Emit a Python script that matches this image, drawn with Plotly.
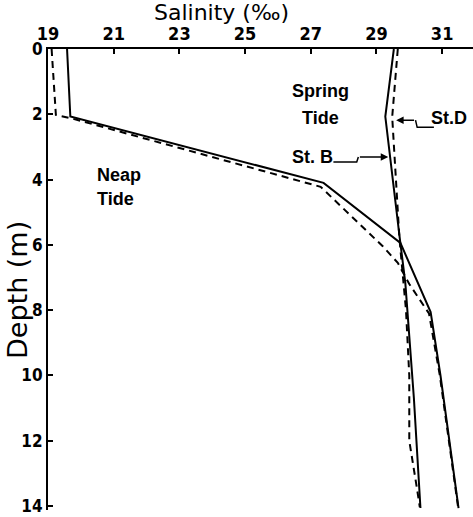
import plotly.graph_objects as go

# ---- data ----
neap_solid_depth = [0, 2.07, 4.10, 5.94, 8.06, 10.0, 14.06]
neap_solid_sal = [19.58, 19.68, 27.39, 29.73, 30.65, 30.95, 31.50]

neap_dash_depth = [0, 2.02, 2.12, 4.22, 6.05, 6.55, 7.2, 8.1, 10.0, 14.06]
neap_dash_sal = [19.11, 19.24, 19.70, 27.30, 29.20, 29.65, 30.0, 30.60, 30.93, 31.49]

stB_depth = [0, 2.07, 5.79, 7.17, 10.69, 14.06]
stB_sal = [29.53, 29.27, 29.71, 29.88, 30.14, 30.34]

stD_depth = [0, 2.08, 5.8, 8.0, 10.0, 12.0, 13.5, 14.03]
stD_sal = [29.65, 29.48, 29.70, 29.90, 30.00, 30.00, 30.24, 30.32]

x_ticks = [19, 21, 23, 25, 27, 29, 31]
y_ticks = [0, 2, 4, 6, 8, 10, 12, 14]

XTICKFONT = dict(family="Liberation Sans Narrow, DejaVu Sans Condensed, Liberation Sans, Arial",
                 size=18, color="black", weight="bold")
YTICKFONT = dict(family="Liberation Sans Narrow, DejaVu Sans Condensed, Liberation Sans, Arial",
                 size=17, color="black", weight="bold")
XTITLEFONT = dict(family="DejaVu Sans, Liberation Sans", size=22, color="black")
YTITLEFONT = dict(family="DejaVu Sans, Liberation Sans", size=27, color="black")
LABELFONT = dict(family="Liberation Sans, Arial", size=18, color="black", weight="bold")

fig = go.Figure()
solid = dict(color="black", width=2)
dashed = dict(color="black", width=2, dash="7px,5px")

fig.add_trace(go.Scatter(x=neap_solid_sal, y=neap_solid_depth, mode="lines", line=solid))
fig.add_trace(go.Scatter(x=neap_dash_sal, y=neap_dash_depth, mode="lines", line=dashed))
fig.add_trace(go.Scatter(x=stB_sal, y=stB_depth, mode="lines", line=solid))
fig.add_trace(go.Scatter(x=stD_sal, y=stD_depth, mode="lines", line=dashed))

# zigzag arrow tails
fig.add_shape(type="path", xref="x", yref="y",
              path="M 27.69 3.46 L 28.40 3.46 L 28.45 3.31",
              line=dict(color="black", width=1.5))
fig.add_shape(type="path", xref="x", yref="y",
              path="M 30.19 2.18 L 30.24 2.40 L 30.75 2.40",
              line=dict(color="black", width=1.5))

W, H = 473, 517
L, R, T, B = 48, 0, 49, 7
pw, ph = W - L - R, H - T - B

annotations = [
    dict(x=29.36, y=3.31, ax=28.45, ay=3.31, xref="x", yref="y", axref="x", ayref="y",
         text="", showarrow=True, arrowhead=2, arrowsize=1, arrowwidth=1.5, arrowcolor="black"),
    dict(x=29.60, y=2.18, ax=30.19, ay=2.18, xref="x", yref="y", axref="x", ayref="y",
         text="", showarrow=True, arrowhead=2, arrowsize=1, arrowwidth=1.5, arrowcolor="black"),
    dict(x=27.3, y=1.29, xref="x", yref="y", text="Spring", showarrow=False, font=LABELFONT),
    dict(x=27.3, y=2.11, xref="x", yref="y", text="Tide", showarrow=False, font=LABELFONT),
    dict(x=20.43, y=3.85, xref="x", yref="y", text="Neap", showarrow=False, font=LABELFONT, xanchor="left"),
    dict(x=20.43, y=4.6, xref="x", yref="y", text="Tide", showarrow=False, font=LABELFONT, xanchor="left"),
    dict(x=26.38, y=3.31, xref="x", yref="y", text="St. B", showarrow=False, font=LABELFONT, xanchor="left"),
    dict(x=30.59, y=2.11, xref="x", yref="y", text="St.D", showarrow=False, font=LABELFONT, xanchor="left"),
    dict(x=221, y=12, xref="paper", yref="paper", text="Salinity (‰)", showarrow=False, font=XTITLEFONT),
    dict(x=17, y=290, xref="paper", yref="paper", text="Depth (m)", showarrow=False, font=YTITLEFONT, textangle=-90),
]
# convert pixel-placed titles to paper coordinates
for a in annotations:
    if a.get("xref") == "paper":
        a["x"] = (a["x"] - L) / pw
        a["y"] = 1 - (a["y"] - T) / ph
        a["xanchor"] = "center"
        a["yanchor"] = "middle"

fig.update_layout(
    width=W, height=H,
    margin=dict(l=L, r=R, t=T, b=B, pad=0, autoexpand=False),
    paper_bgcolor="white", plot_bgcolor="white",
    showlegend=False,
    annotations=annotations,
    xaxis=dict(side="top", range=[19.0, 31.94], tickvals=x_ticks, ticktext=[str(v) for v in x_ticks],
               showgrid=False, zeroline=False, showline=True, linecolor="black", linewidth=2,
               automargin=False,
               ticks="inside", ticklen=5, tickwidth=1.5, tickcolor="black", tickfont=XTICKFONT),
    yaxis=dict(range=[14.12, 0], tickvals=y_ticks, ticktext=[str(v) for v in y_ticks],
               showgrid=False, zeroline=False, showline=True, linecolor="black", linewidth=2,
               automargin=False,
               ticks="inside", ticklen=5, tickwidth=1.5, tickcolor="black", tickfont=YTICKFONT),
)

fig.write_html("out.html", config={"displayModeBar": False},
               post_script="document.body.style.margin='0px';")
